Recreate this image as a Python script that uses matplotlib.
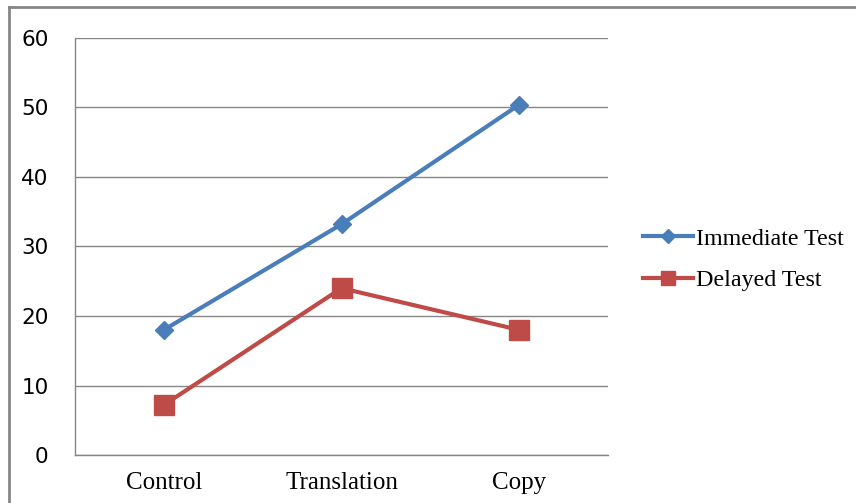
import matplotlib.pyplot as plt
from matplotlib.lines import Line2D

conditions = ['Control', 'Translation', 'Copy']
immediate = [18, 33.2, 50.4]
delayed = [7.2, 24, 18]
y_ticks = [0, 10, 20, 30, 40, 50, 60]

blue = '#4A7EBB'
red = '#BE4B48'
grey = '#868686'

fig = plt.figure(figsize=(8.56, 5.03), dpi=100)
ax = fig.add_axes([0.0876, 0.0954, 0.6227, 0.8291])

x = range(len(conditions))
ax.plot(x, immediate, color=blue, lw=3, marker='D', ms=9, label='Immediate Test')
ax.plot(x, delayed, color=red, lw=3, marker='s', ms=14, label='Delayed Test')

ax.set_xlim(-0.5, len(conditions) - 0.5)
ax.set_ylim(0, 60)
ax.set_yticks(y_ticks)
ax.set_xticks(list(x))
ax.set_xticklabels(conditions, family='Liberation Serif', fontsize=18)
ax.tick_params(axis='y', length=0, pad=19, labelsize=15.5)
ax.tick_params(axis='x', length=0, pad=12)
ax.yaxis.grid(True, color=grey, lw=1)
ax.set_axisbelow(True)
for side in ['top', 'right']:
    ax.spines[side].set_visible(False)
for side in ['left', 'bottom']:
    ax.spines[side].set_color(grey)
    ax.spines[side].set_linewidth(1)

fig.legend(loc='center left', bbox_to_anchor=(0.751, 0.484), frameon=False,
           borderpad=0, borderaxespad=0, handlelength=2.1, handletextpad=0.12,
           labelspacing=0.82, markerscale=0.75,
           prop={'family': 'Liberation Serif', 'size': 17.3})

# outer chart frame (top and left edges only)
fig.add_artist(Line2D([0.0105, 1.0], [0.986, 0.986], color=grey, lw=2))
fig.add_artist(Line2D([0.0105, 0.0105], [0.0, 0.986], color=grey, lw=2))

fig.savefig('out.png', dpi=100)
